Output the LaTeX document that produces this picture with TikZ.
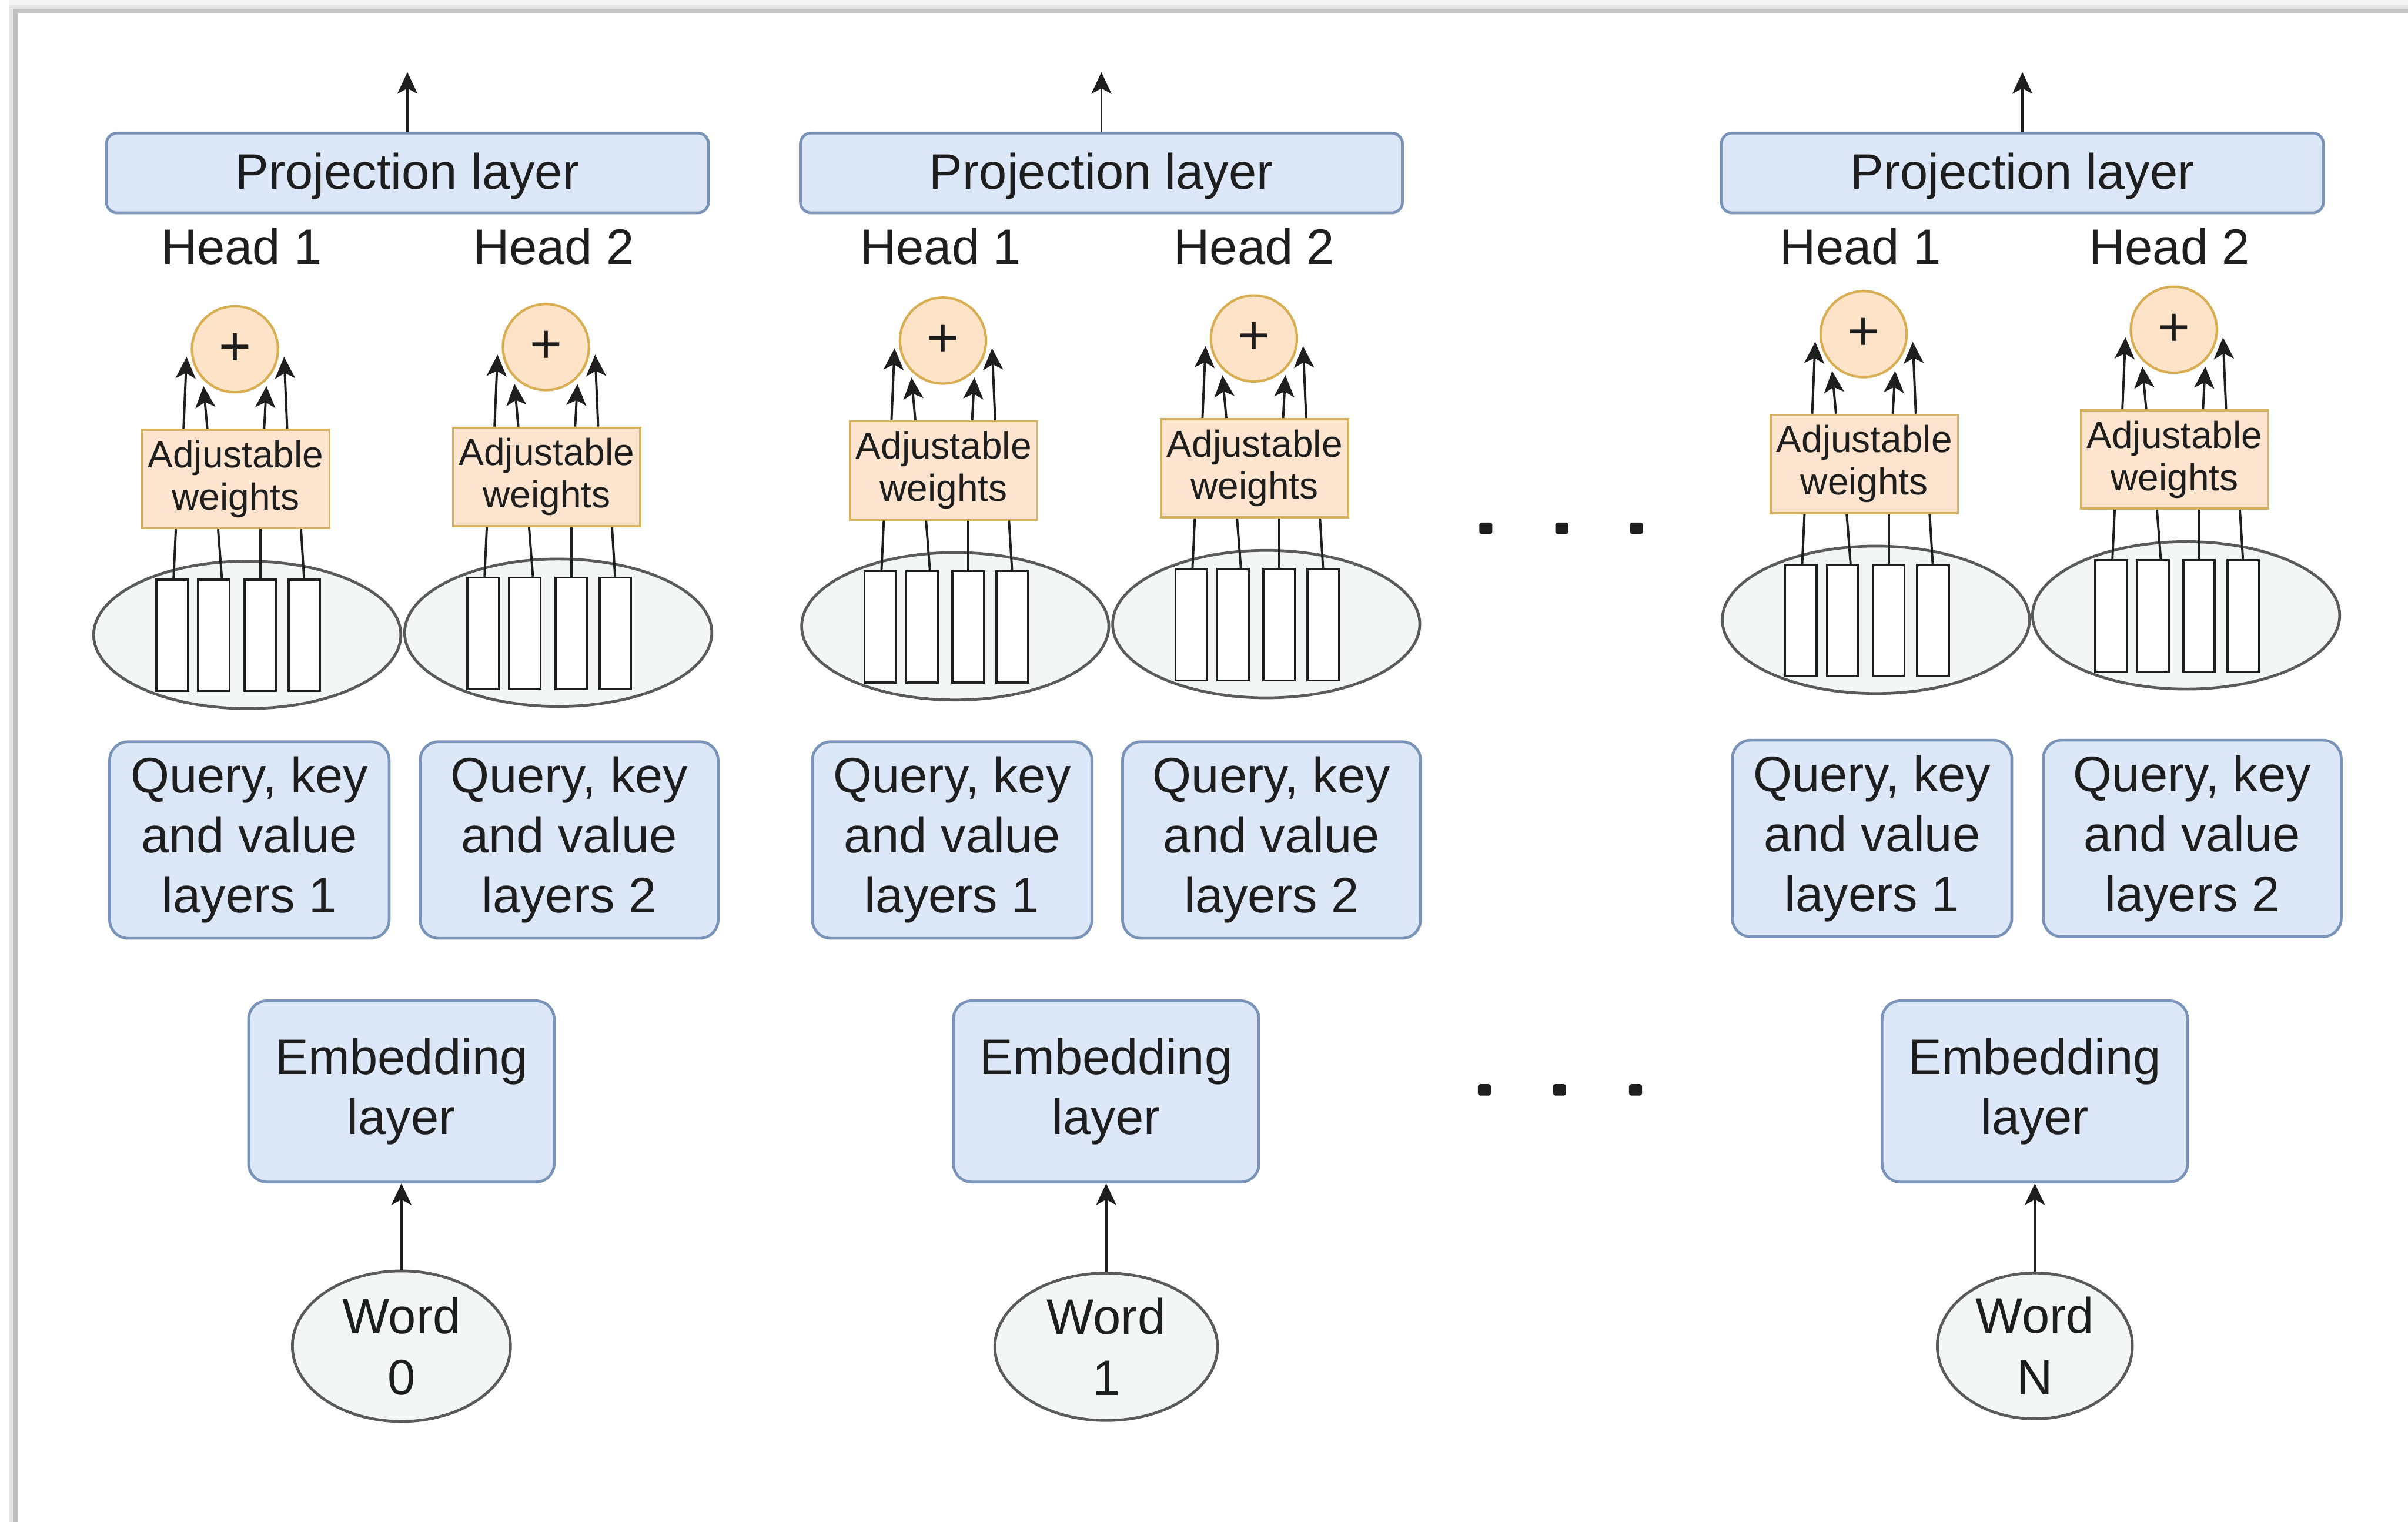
\documentclass[tikz,border=0pt]{standalone}
\usepackage{fontspec}
\setmainfont{Liberation Sans}
\usetikzlibrary{shapes.geometric,arrows.meta,calc}

\definecolor{boxblue}{HTML}{DCE8F8}
\definecolor{edgeblue}{HTML}{7A93B8}
\definecolor{peach}{HTML}{FCE4CE}
\definecolor{gold}{HTML}{D6B25E}
\definecolor{plusfill}{HTML}{FDE4C8}
\definecolor{plusedge}{HTML}{D9AE52}
\definecolor{pale}{HTML}{F4F5F5}
\definecolor{rim}{HTML}{5A5A5A}
\definecolor{ink}{HTML}{1E1E1E}
\definecolor{framelight}{HTML}{E6E6E6}
\definecolor{framegray}{HTML}{C2C2C2}

\tikzset{
  maintext/.style={font=\fontsize{32.5}{39}\selectfont, text=ink},
  bluebox/.style={maintext, draw=edgeblue, fill=boxblue, line width=1.8pt,
    rounded corners=12pt, align=center, inner sep=0pt},
  projbox/.style={bluebox, rounded corners=7pt, minimum width=392pt, minimum height=52pt,
    text height=23.5pt, text depth=2.8pt},
  qkvbox/.style={bluebox, minimum height=128pt},
  embbox/.style={bluebox, minimum width=199pt, minimum height=118pt},
  wordnode/.style={ellipse, draw=rim, fill=pale, line width=1.8pt, align=center,
    inner sep=0pt, text=ink, font=\fontsize{32.5}{40}\selectfont},
  headlbl/.style={maintext, anchor=base, inner sep=0pt},
  wbox/.style={draw=gold, fill=peach, line width=1.4pt, minimum width=122pt,
    minimum height=64pt, inner sep=0pt, align=center, text=ink,
    font=\fontsize{24.5}{27.5}\selectfont},
  plusnode/.style={circle, draw=plusedge, fill=plusfill, line width=1.6pt,
    minimum size=56pt, inner sep=0pt, text=ink, font=\fontsize{36}{36}\selectfont},
  headset/.style={ellipse, draw=rim, fill=pale, line width=1.8pt,
    minimum width=200pt, minimum height=96pt, inner sep=0pt},
  slot/.style={draw=ink, fill=white, line width=1.4pt, minimum width=20.5pt,
    minimum height=72.5pt, inner sep=0pt},
  wire/.style={draw=ink, line width=1.5pt},
  arr/.style={wire, -{Stealth[length=14pt,width=13pt,inset=3.5pt]}},
  gapdot/.style={fill=ink, rounded corners=1.5pt, minimum width=8.5pt,
    minimum height=7.5pt, inner sep=0pt}
}

% One attention head: #1 name prefix, #2 centre x of the weights box,
% #3 top y of the weights box
\newcommand\attnhead[3]{%
  \node[headset] (#1e) at ({#2+7.5},{#3+134}) {};
  \foreach \k/\dx in {1/-41.3,2/-14.2,3/15.9,4/44.7}
    \node[slot] (#1b\k) at ({#2+(\dx)},{#3+134.4}) {};
  \node[wbox] (#1w) at (#2,{#3+32.5}) {Adjustable\\weights};
  \node[plusnode] (#1p) at ({#2-0.5},{#3-52}) {+};
  \draw[wire] ($(#1b1.north)+(0.8,0)$) -- ($(#1w.south)+(-39,0)$);
  \draw[wire] ($(#1b2.north)+(5.2,0)$) -- ($(#1w.south)+(-11.5,0)$);
  \draw[wire] ($(#1b3.north)+(0.1,0)$) -- ($(#1w.south)+(16,0)$);
  \draw[wire] ($(#1b4.north)+(-0.2,0)$) -- ($(#1w.south)+(42.5,0)$);
  \draw[arr] ($(#1w.north)+(-34,0)$) -- ($(#1p.center)+(-31.5,5)$);
  \draw[arr] ($(#1w.north)+(-18.5,0)$) -- ($(#1p.center)+(-20.5,24)$);
  \draw[arr] ($(#1w.north)+(18.5,0)$) -- ($(#1p.center)+(20.5,24)$);
  \draw[arr] ($(#1w.north)+(33.5,0)$) -- ($(#1p.center)+(32,5)$);
}

\begin{document}
\begin{tikzpicture}[x=1pt,y=-1pt]
\useasboundingbox (0,0) rectangle (1568,991);
\fill[white] (0,0) rectangle (1568,991);

% frame edges along the top and the left
\fill[black!4] (6,0) rectangle (1568,3.6);
\fill[framelight] (6,3.6) rectangle (1568,5.6);
\fill[framegray] (6,5.6) rectangle (1568,8.3);
\fill[framelight] (6,3.6) rectangle (8.6,991);
\fill[framegray] (8.6,5.6) rectangle (11.6,991);

% ---------- word 0 ----------
\node[projbox] (c1proj) at (265.3,112.6) {Projection layer};
\coordinate (c1out) at (265.3,47);
\draw[arr] (c1proj.north) -- (c1out);
\node[headlbl] (c1l1) at (157.4,172) {Head 1};
\node[headlbl] (c1l2) at (360.6,172) {Head 2};
\attnhead{c1h1}{153.5}{279.4}
\attnhead{c1h2}{356}{278}
\node[qkvbox, minimum width=182pt] (c1q1) at (162.4,547) {Query, key\\and value\\layers 1};
\node[qkvbox, minimum width=194pt] (c1q2) at (370.6,547) {Query, key\\and value\\layers 2};
\node[embbox] (c1emb) at (261.4,710.7) {Embedding\\layer};
\node[wordnode, minimum width=142pt, minimum height=98pt] (c1word) at (261.4,876.6) {Word\\0};
\draw[arr] (c1word) -- (c1emb);

% ---------- word 1 ----------
\node[projbox] (c2proj) at (717.2,112.6) {Projection layer};
\coordinate (c2out) at (717.2,47);
\draw[arr] (c2proj.north) -- (c2out);
\node[headlbl] (c2l1) at (612.6,172) {Head 1};
\node[headlbl] (c2l2) at (816.7,172) {Head 2};
\attnhead{c2h1}{614.5}{273.8}
\attnhead{c2h2}{817}{272.4}
\node[qkvbox, minimum width=182pt] (c2q1) at (620,547) {Query, key\\and value\\layers 1};
\node[qkvbox, minimum width=194pt] (c2q2) at (828,547) {Query, key\\and value\\layers 2};
\node[embbox] (c2emb) at (720.3,710.7) {Embedding\\layer};
\node[wordnode, minimum width=145pt, minimum height=96pt] (c2word) at (720.3,877) {Word\\1};
\draw[arr] (c2word) -- (c2emb);

% ---------- word N ----------
\node[projbox] (c3proj) at (1316.9,112.6) {Projection layer};
\coordinate (c3out) at (1316.9,47);
\draw[arr] (c3proj.north) -- (c3out);
\node[headlbl] (c3l1) at (1211.5,172) {Head 1};
\node[headlbl] (c3l2) at (1412.7,172) {Head 2};
\attnhead{c3h1}{1214}{269.6}
\attnhead{c3h2}{1416}{266.7}
\node[qkvbox, minimum width=182pt] (c3q1) at (1219,546) {Query, key\\and value\\layers 1};
\node[qkvbox, minimum width=194pt] (c3q2) at (1427.5,546) {Query, key\\and value\\layers 2};
\node[embbox] (c3emb) at (1325,710.7) {Embedding\\layer};
\node[wordnode, minimum width=127pt, minimum height=95pt] (c3word) at (1325,876.4) {Word\\N};
\draw[arr] (c3word) -- (c3emb);

% ellipsis between the columns
\node[gapdot] (u1) at (967.5,344) {};
\node[gapdot] (u2) at (1017,344) {};
\node[gapdot] (u3) at (1065.6,344) {};
\node[gapdot] (v1) at (966.6,709.7) {};
\node[gapdot] (v2) at (1015.5,709.7) {};
\node[gapdot] (v3) at (1065,709.7) {};
\end{tikzpicture}
\end{document}
